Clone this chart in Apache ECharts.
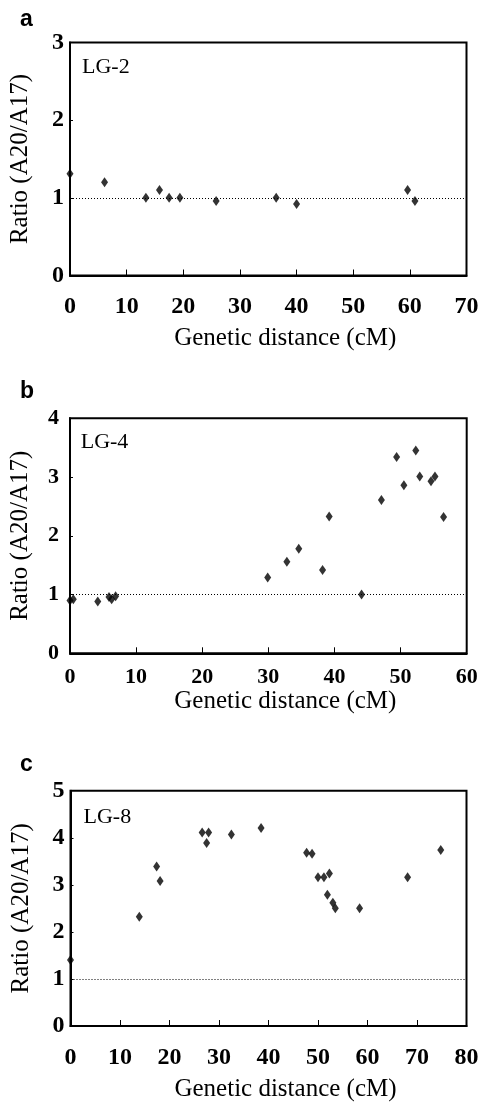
<!DOCTYPE html>
<html>
<head>
<meta charset="UTF-8">
<title>Ratio A20/A17</title>
<script type="text/javascript" src="https://cdn.jsdelivr.net/npm/echarts@6/dist/echarts.min.js"></script>
<style>
body { margin:0; padding:0; background:#fff; }
</style>
</head>
<body>
<div id="main" style="width:487px; height:1103px;"></div>
<script type="text/javascript">
		// LG-2
		var lg2X = [0, 6.1, 13.4, 15.8, 17.5, 19.4, 25.8, 36.4, 40.0, 59.6, 60.9];
		var lg2Y = [1.31, 1.20, 1.0, 1.10, 1.0, 1.0, 0.96, 1.0, 0.92, 1.10, 0.96];
		// LG-4
		var lg4X = [0, 0.5, 4.2, 5.9, 6.3, 6.9, 29.9, 32.8, 34.6, 38.2, 39.2, 44.1, 47.1, 49.4, 50.5, 52.3, 52.9, 54.6, 55.2, 56.5];
		var lg4Y = [0.90, 0.92, 0.88, 0.96, 0.92, 0.97, 1.29, 1.56, 1.78, 1.42, 2.33, 1.0, 2.61, 3.34, 2.86, 3.45, 3.01, 2.93, 3.01, 2.32];
		// LG-8
		var lg8X = [0, 13.9, 17.4, 18.1, 26.6, 27.9, 27.5, 32.5, 38.5, 47.7, 48.8, 50.0, 51.2, 52.3, 51.9, 53.0, 53.5, 58.4, 68.1, 74.8];
		var lg8Y = [1.40, 2.32, 3.39, 3.08, 4.11, 4.11, 3.89, 4.07, 4.21, 3.68, 3.66, 3.16, 3.16, 3.24, 2.79, 2.62, 2.50, 2.50, 3.16, 3.74];

		var panelNames = ['a', 'b', 'c'];
		var groupNames = ['LG-2', 'LG-4', 'LG-8'];
		var xMax = [70, 60, 80];
		var yMax = [3, 4, 5];
		var baseline = 1;

		function pairs(xs, ys) {
			var out = [];
			for (var i = 0; i < xs.length; i++) out.push([xs[i], ys[i]]);
			return out;
		}
		var seriesData = [pairs(lg2X, lg2Y), pairs(lg4X, lg4Y), pairs(lg8X, lg8Y)];

		var serif = "'Liberation Serif', 'Times New Roman', serif";
		var grids = [
			{left: 69, top: 42.5, width: 397.5, height: 233},
			{left: 67.7, top: 418.3, width: 399, height: 235},
			{left: 70.5, top: 790.7, width: 396, height: 239}
		];
		var tickFont = [24, 22, 24];
		var labelMargin = [19, 13, 20];
		var yLabelMargin = [6, 11, 6];
		var nameGapX = [50, 34, 51];
		var panelTop = [3, 375, 748];
		var lgTop = [51, 426, 801];

		var option = {
			backgroundColor: '#fff',
			animation: false,
			title: [],
			grid: [],
			xAxis: [],
			yAxis: [],
			series: []
		};

		for (var k = 0; k < 3; k++) {
			option.title.push({
				text: panelNames[k], left: 15, top: panelTop[k],
				textStyle: {fontFamily: "'Liberation Sans', Arial, sans-serif", fontWeight: 'bold', fontSize: 23, color: '#000'}
			});
			option.title.push({
				text: groupNames[k], left: grids[k].left + 8, top: lgTop[k],
				textStyle: {fontFamily: serif, fontWeight: 'normal', fontSize: 22, color: '#000'}
			});
			option.grid.push({
				left: grids[k].left, top: grids[k].top, width: grids[k].width, height: grids[k].height,
				show: true, borderColor: '#000', borderWidth: 2, backgroundColor: 'transparent'
			});
			option.xAxis.push({
				gridIndex: k, type: 'value', min: 0, max: xMax[k], interval: 10,
				name: 'Genetic distance (cM)', nameLocation: 'middle', nameGap: nameGapX[k],
				nameTextStyle: {fontFamily: serif, fontSize: 25, color: '#000', padding: [0, 0, 0, 34]},
				axisLine: {onZero: false, lineStyle: {color: '#000', width: 2}},
				axisTick: {inside: true, length: 6, lineStyle: {color: '#000', width: 1}},
				axisLabel: {fontFamily: serif, fontWeight: 'bold', fontSize: tickFont[k], color: '#000', margin: labelMargin[k]},
				splitLine: {show: false}
			});
			option.yAxis.push({
				gridIndex: k, type: 'value', min: 0, max: yMax[k], interval: 1,
				name: 'Ratio (A20/A17)', nameLocation: 'middle', nameGap: 37, nameRotate: 90,
				nameTextStyle: {fontFamily: serif, fontSize: 25, color: '#000'},
				axisLine: {onZero: false, lineStyle: {color: '#000', width: 2}},
				axisTick: {inside: true, length: 3, lineStyle: {color: '#000', width: 1}},
				axisLabel: {fontFamily: serif, fontWeight: 'bold', fontSize: tickFont[k], color: '#000', margin: yLabelMargin[k]},
				splitLine: {show: false}
			});
			option.series.push({
				type: 'scatter', xAxisIndex: k, yAxisIndex: k,
				symbol: 'diamond', symbolSize: [7, 10],
				itemStyle: {color: '#000'},
				data: seriesData[k],
				markLine: {
					silent: true, symbol: 'none', label: {show: false},
					lineStyle: {color: '#000', width: 1, type: [1, 2]},
					data: [{yAxis: baseline}]
				}
			});
		}

		var myChart = echarts.init(document.getElementById('main'));
		myChart.setOption(option);
</script>
</body>
</html>
